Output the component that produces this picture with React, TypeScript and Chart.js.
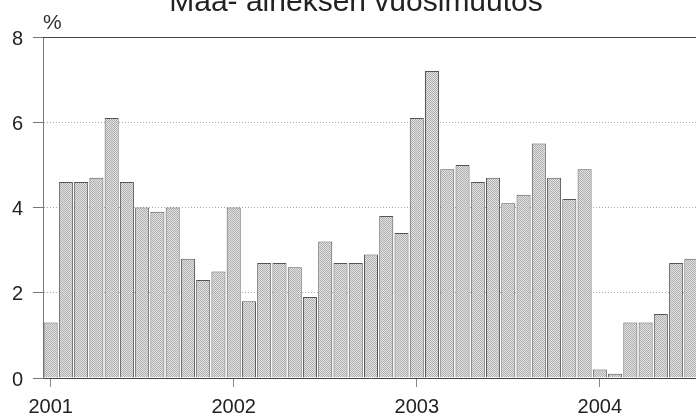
import React, { useEffect, useRef } from "react";
import { Chart, registerables } from "chart.js";

Chart.register(...registerables);

const titleText = "Maa- aineksen vuosimuutos";
const unitLabel = "%";
const years = ["2001", "2002", "2003", "2004"];
const monthsShown = 43;
const values = [
  1.3, 4.6, 4.6, 4.7, 6.1, 4.6, 4.0, 3.9, 4.0, 2.8, 2.3, 2.5,
  4.0, 1.8, 2.7, 2.7, 2.6, 1.9, 3.2, 2.7, 2.7, 2.9, 3.8, 3.4,
  6.1, 7.2, 4.9, 5.0, 4.6, 4.7, 4.1, 4.3, 5.5, 4.7, 4.2, 4.9,
  0.2, 0.1, 1.3, 1.3, 1.5, 2.7, 2.8,
];
const yTicks = [0, 2, 4, 6, 8];

const categories: string[] = [];
for (let i = 0; i < monthsShown; i++) {
  const y = years[Math.floor(i / 12)];
  const m = (i % 12) + 1;
  categories.push(`${y}-${m < 10 ? "0" + m : m}`);
}

const FONT = "'Liberation Sans', Arial, Helvetica, sans-serif";

export default function App() {
  const ref = useRef<HTMLCanvasElement | null>(null);

  useEffect(() => {
    const canvas = ref.current;
    if (!canvas) return;

    const pc = document.createElement("canvas");
    pc.width = 2;
    pc.height = 2;
    const pctx = pc.getContext("2d")!;
    pctx.fillStyle = "#e2e2e2";
    pctx.fillRect(0, 0, 2, 2);
    pctx.fillStyle = "#afafaf";
    pctx.fillRect(0, 0, 1, 1);
    pctx.fillRect(1, 1, 1, 1);
    const ctx0 = canvas.getContext("2d")!;
    const pattern = ctx0.createPattern(pc, "repeat");

    const decor = {
      id: "decor",
      afterDraw(chart: any) {
        const { ctx, chartArea } = chart;
        ctx.save();
        ctx.strokeStyle = "#444";
        ctx.lineWidth = 1;
        ctx.beginPath();
        ctx.moveTo(chartArea.left, Math.round(chartArea.top) + 0.5);
        ctx.lineTo(chartArea.right, Math.round(chartArea.top) + 0.5);
        ctx.stroke();
        ctx.fillStyle = "#333";
        ctx.font = `21px ${FONT}`;
        ctx.textAlign = "left";
        ctx.textBaseline = "alphabetic";
        ctx.fillText(unitLabel, 43, 29);
        ctx.fillStyle = "#222";
        ctx.font = `30px ${FONT}`;
        ctx.textAlign = "center";
        ctx.fillText(titleText, 356, 11);
        ctx.restore();
      },
    };

    const chart = new Chart(canvas, {
      type: "bar",
      data: {
        labels: categories,
        datasets: [
          {
            data: values,
            backgroundColor: pattern as any,
            borderColor: "#555",
            borderWidth: 1,
            barPercentage: 0.92,
            categoryPercentage: 1,
          },
        ],
      },
      options: {
        responsive: false,
        animation: false,
        layout: { padding: { top: 37, left: 0, right: 21, bottom: 0 } },
        plugins: {
          legend: { display: false },
          tooltip: { enabled: false },
          title: { display: false },
        },
        scales: {
          x: {
            offset: true,
            afterFit: (s: any) => {
              s.height = 41;
            },
            grid: {
              offset: false,
              drawOnChartArea: false,
              drawTicks: true,
              tickLength: 9,
              tickColor: "#888",
            },
            border: { display: true, color: "#444", width: 1 },
            ticks: {
              autoSkip: false,
              maxRotation: 0,
              minRotation: 0,
              padding: 8,
              color: "#222",
              font: { family: FONT, size: 20 },
              callback: (_v: any, i: number) =>
                i % 12 === 0 ? years[i / 12] : null,
            },
          },
          y: {
            min: 0,
            max: 8,
            afterFit: (s: any) => {
              s.width = 43;
            },
            afterBuildTicks: (s: any) => {
              s.ticks = yTicks.map((v) => ({ value: v }));
            },
            grid: {
              color: (c: any) =>
                c.tick && (c.tick.value === 0 || c.tick.value === 8)
                  ? "rgba(0,0,0,0)"
                  : "#a8a8a8",
              lineWidth: 1,
              drawTicks: true,
              tickLength: 10,
              tickColor: "#777",
            },
            border: { display: true, color: "#777", width: 1, dash: [1, 2] },
            ticks: {
              padding: 10,
              labelOffset: 2,
              color: "#222",
              font: { family: FONT, size: 20 },
            },
          },
        },
      },
      plugins: [decor],
    });

    return () => chart.destroy();
  }, []);

  return (
    <div
      style={{
        position: "fixed",
        left: 0,
        top: 0,
        width: 696,
        height: 419,
        overflow: "hidden",
        background: "#fff",
      }}
    >
      <canvas
        ref={ref}
        width={720}
        height={419}
        style={{ width: 720, height: 419, display: "block" }}
      />
    </div>
  );
}
